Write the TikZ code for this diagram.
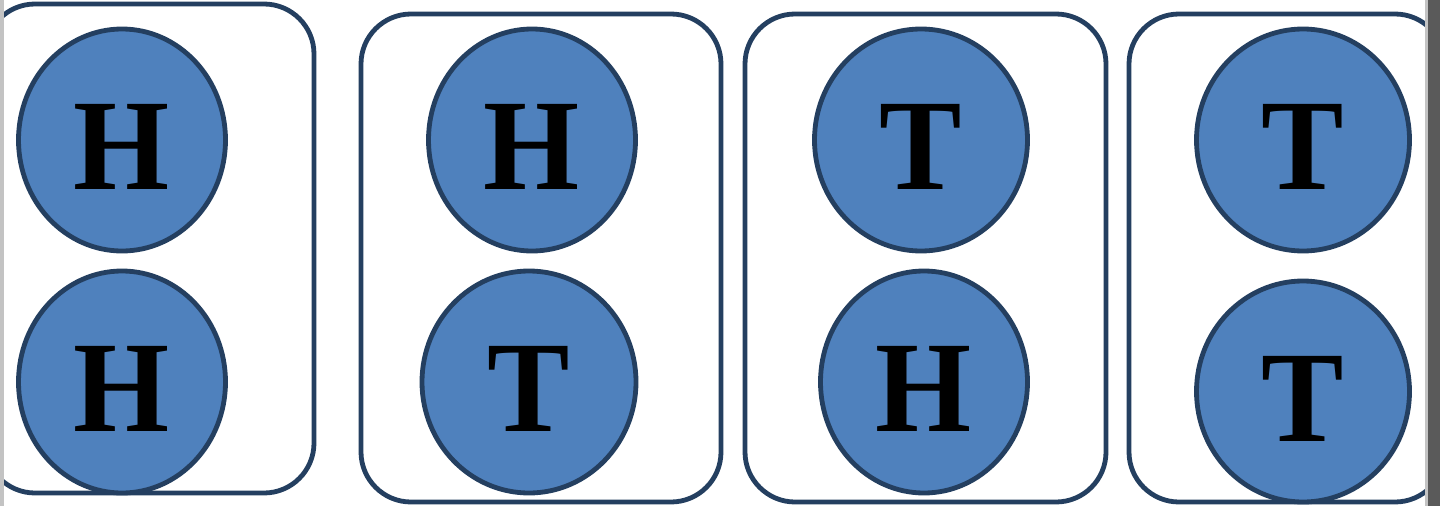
\documentclass[tikz,border=0pt]{standalone}
\usepackage{fontspec}
\setmainfont{Liberation Serif}
\usetikzlibrary{shapes.geometric}
\definecolor{edge}{HTML}{243F60}
\definecolor{coin}{HTML}{4F81BD}
\definecolor{lgray}{HTML}{C3C3C3}
\definecolor{dgray}{HTML}{5A5A5A}
\begin{document}
\begin{tikzpicture}[x=1pt,y=-1pt,
  panel/.style={draw=edge,line width=4.8pt,rounded corners=50pt,fill=white},
  coinshape/.style={ellipse,draw=edge,line width=4.8pt,fill=coin,inner sep=0pt},
  face/.style={font=\fontsize{130}{130}\selectfont\bfseries,inner sep=0pt,yshift=-7pt}]
\useasboundingbox (0,0) rectangle (1440,506);
\fill[white] (0,0) rectangle (1440,506);
\begin{scope}
\clip (4,0) rectangle (1425,506);
\draw[panel] (-15,4) rectangle (314,493);
\draw[panel] (361,14) rectangle (721,502);
\draw[panel] (745,14) rectangle (1106,502);
\draw[panel] (1129,14) rectangle (1445,502);
\node[coinshape,minimum width=207pt,minimum height=222pt] (a1) at (122,140) {};
\node[coinshape,minimum width=207pt,minimum height=222pt] (a2) at (122,382) {};
\node[coinshape,minimum width=207pt,minimum height=222pt] (b1) at (532,140) {};
\node[coinshape,minimum width=214pt,minimum height=222pt] (b2) at (529,382) {};
\node[coinshape,minimum width=213pt,minimum height=222pt] (c1) at (921,140) {};
\node[coinshape,minimum width=207pt,minimum height=222pt] (c2) at (924,382) {};
\node[coinshape,minimum width=213pt,minimum height=222pt] (d1) at (1303,140) {};
\node[coinshape,minimum width=213pt,minimum height=221pt] (d2) at (1303,391.5) {};
\node[face] (ta1) at (a1) {\scalebox{0.95}[1]{H}};
\node[face] (ta2) at (a2) {\scalebox{0.95}[1]{H}};
\node[face] (tb1) at (b1) {\scalebox{0.95}[1]{H}};
\node[face] (tb2) at (b2) {\scalebox{0.95}[1]{T}};
\node[face] (tc1) at (c1) {\scalebox{0.95}[1]{T}};
\node[face] (tc2) at (c2) {\scalebox{0.95}[1]{H}};
\node[face] (td1) at (d1) {\scalebox{0.95}[1]{T}};
\node[face] (td2) at (d2) {\scalebox{0.95}[1]{T}};
\end{scope}
\fill[lgray] (0,0) rectangle (4,506);
\fill[lgray] (1425,0) rectangle (1428,506);
\fill[dgray] (1428,0) rectangle (1440,506);
\end{tikzpicture}
\end{document}
